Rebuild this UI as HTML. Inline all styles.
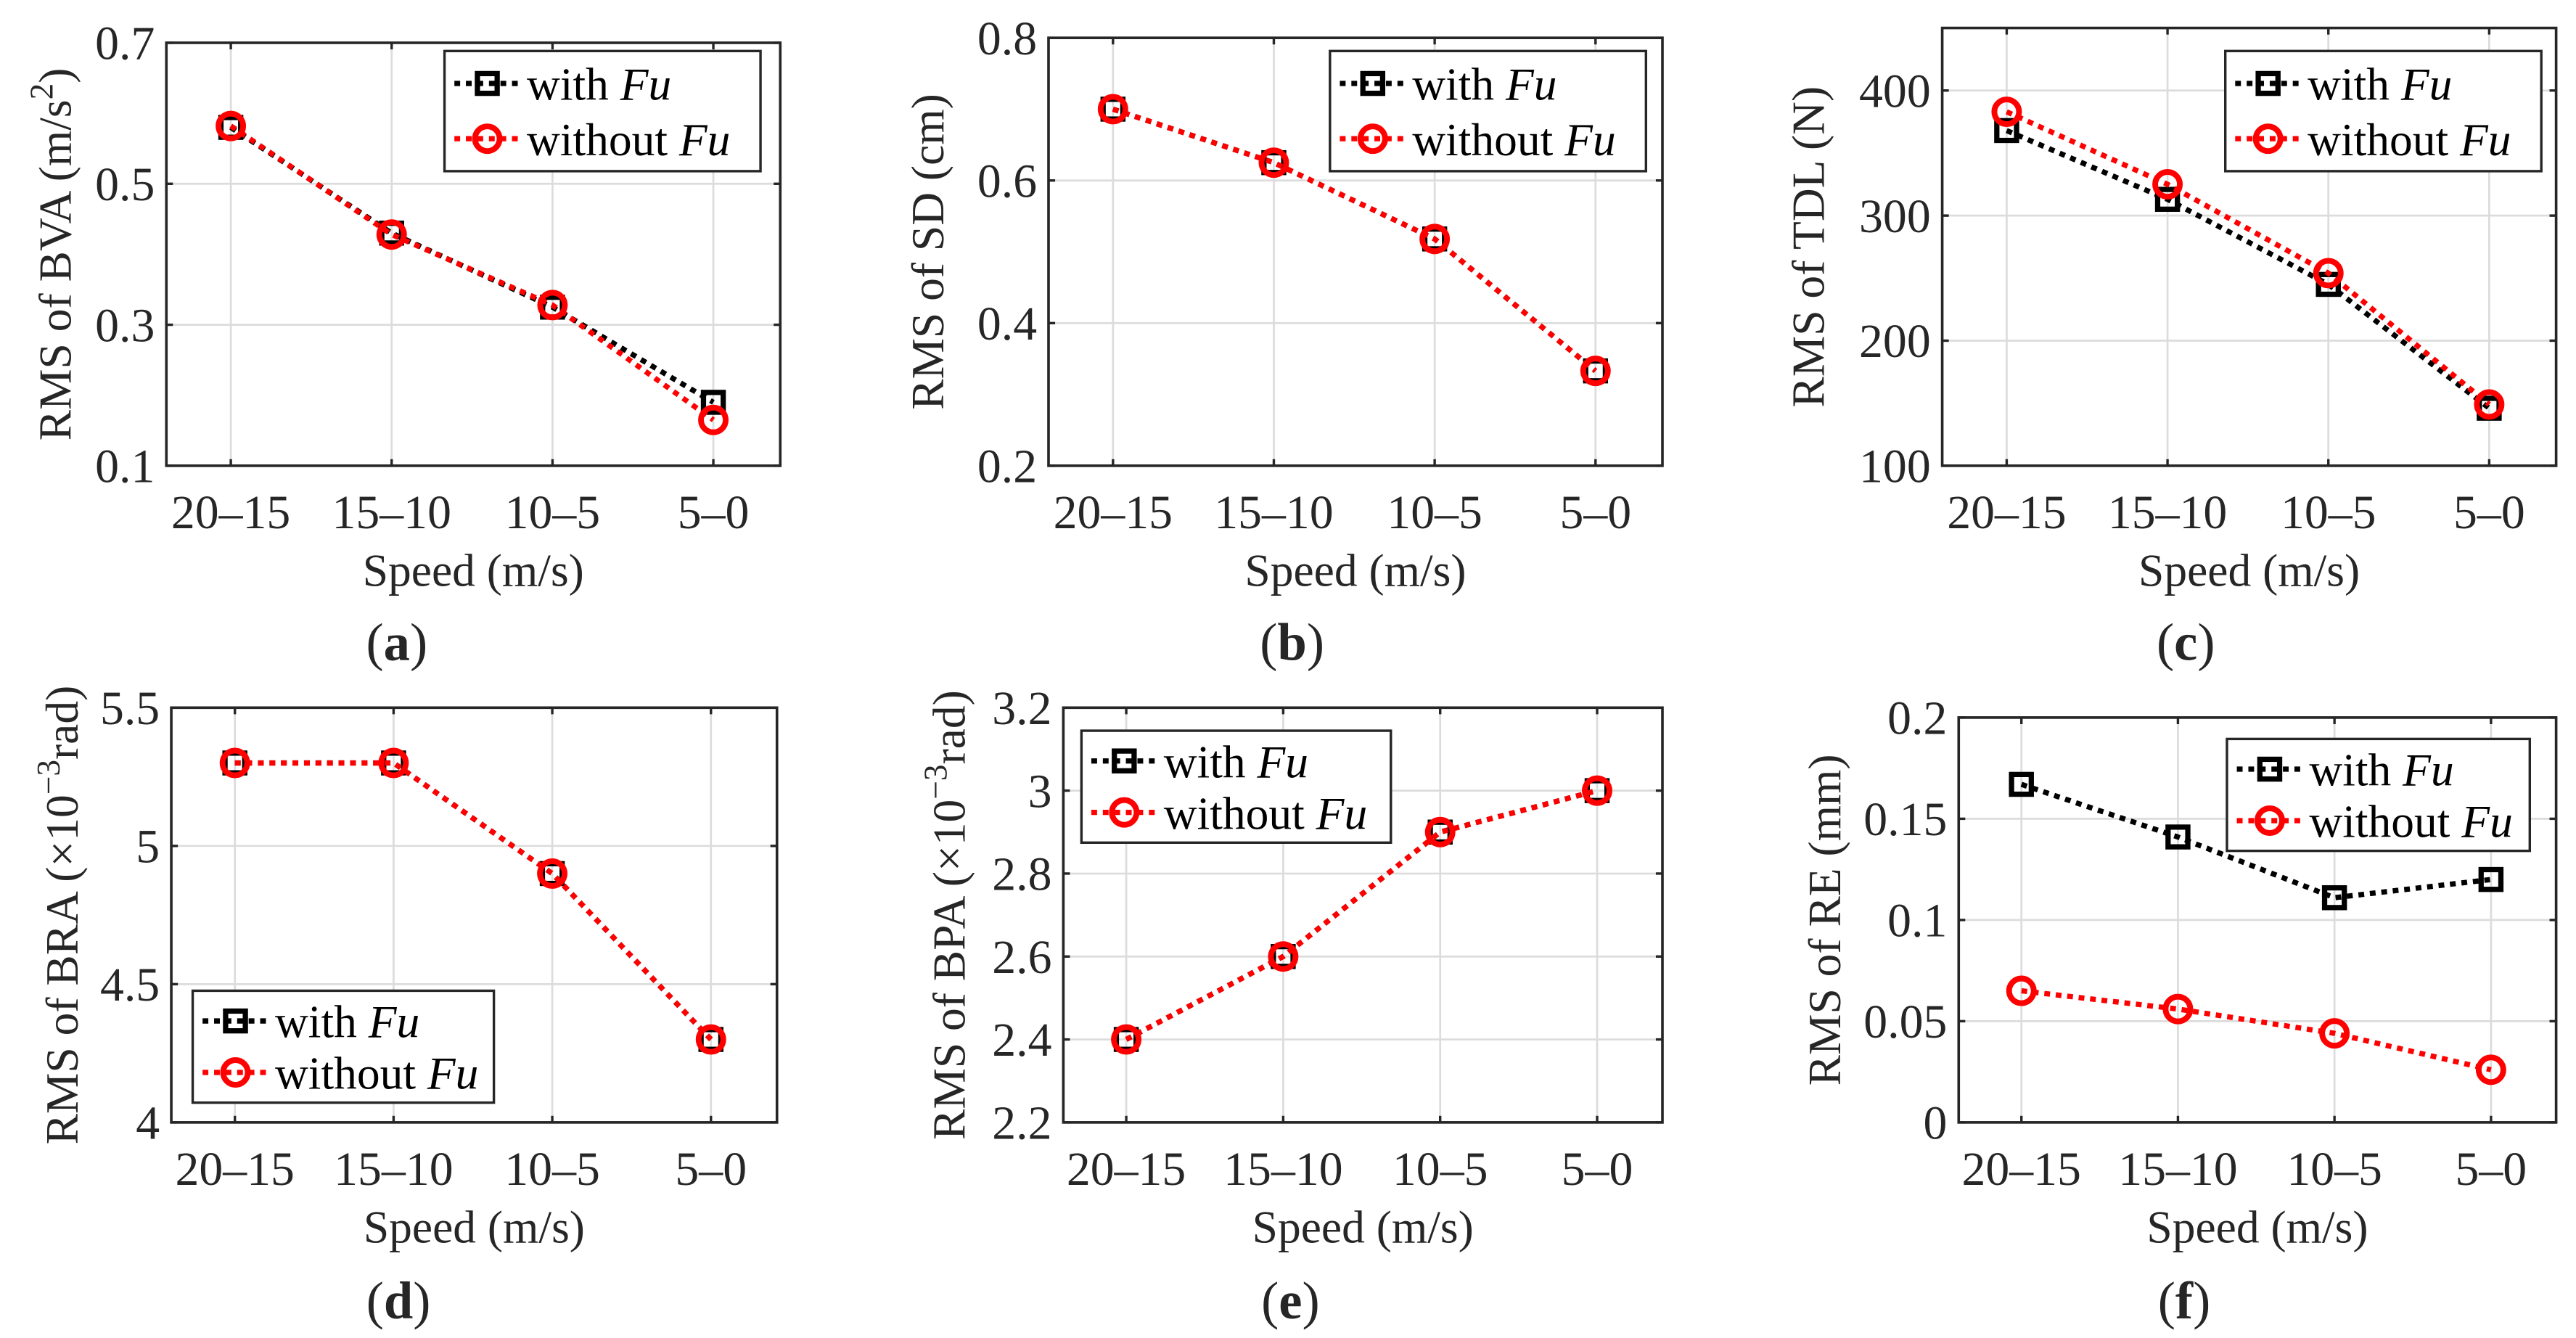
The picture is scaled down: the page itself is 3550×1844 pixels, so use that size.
<!DOCTYPE html>
<html><head><meta charset="utf-8"><style>
html,body{margin:0;padding:0;background:#fff}
svg{display:block}
text{font-family:"Liberation Serif",serif;fill:#262626}
</style></head><body>
<svg id="fig" width="3550" height="1844" viewBox="0 0 1565 813" xmlns="http://www.w3.org/2000/svg"></svg>
<script>
const categories = ["20–15","15–10","10–5","5–0"];
const aWith = [0.58,0.43,0.325,0.19];
const aWithout = [0.582,0.428,0.328,0.165];
const aTicks = [0.1,0.3,0.5,0.7];
const bWith = [0.70,0.625,0.518,0.333];
const bWithout = [0.70,0.625,0.518,0.333];
const bTicks = [0.2,0.4,0.6,0.8];
const cWith = [368,313,245,146];
const cWithout = [383,325,254,149];
const cTicks = [100,200,300,400];
const dWith = [5.30,5.30,4.90,4.30];
const dWithout = [5.30,5.30,4.90,4.30];
const dTicks = [4,4.5,5,5.5];
const eWith = [2.40,2.60,2.90,3.00];
const eWithout = [2.40,2.60,2.90,3.00];
const eTicks = [2.2,2.4,2.6,2.8,3,3.2];
const fWith = [0.167,0.141,0.111,0.120];
const fWithout = [0.065,0.056,0.044,0.026];
const fTicks = [0,0.05,0.1,0.15,0.2];

const NS="http://www.w3.org/2000/svg";
const svg=document.getElementById('fig');
function mk(tag,attrs,parent,txt){const e=document.createElementNS(NS,tag);for(const k in attrs)e.setAttribute(k,attrs[k]);if(txt!==undefined)e.textContent=txt;(parent||svg).appendChild(e);return e;}

const panels=[
 {id:'a',x0:101,x1:474,y0:26,y1:283,ymin:0.1,ymax:0.7,ticks:aTicks,w:aWith,wo:aWithout,ylab:'RMS of BVA (m/s',sup:'2',supEnd:')',yoff:58,leg:[270,31,192,73],cap:[241,390]},
 {id:'b',x0:637,x1:1010,y0:23,y1:283,ymin:0.2,ymax:0.8,ticks:bTicks,w:bWith,wo:bWithout,ylab:'RMS of SD (cm)',yoff:64,leg:[808,31,192,73],cap:[785,390]},
 {id:'c',x0:1180,x1:1553,y0:17,y1:283,ymin:100,ymax:450,ticks:cTicks,w:cWith,wo:cWithout,ylab:'RMS of TDL (N)',yoff:72,leg:[1352,31,192,73],cap:[1328,390]},
 {id:'d',x0:104,x1:472,y0:430,y1:682,ymin:4,ymax:5.5,ticks:dTicks,w:dWith,wo:dWithout,ylab:'RMS of BRA (×10',sup:'−3',supEnd:'rad)',yoff:57,leg:[117,602,183,68],cap:[242,790]},
 {id:'e',x0:646,x1:1010,y0:430,y1:682,ymin:2.2,ymax:3.2,ticks:eTicks,w:eWith,wo:eWithout,ylab:'RMS of BPA (×10',sup:'−3',supEnd:'rad)',yoff:60,leg:[657,444,188,68],cap:[784,790]},
 {id:'f',x0:1190,x1:1553,y0:436,y1:682,ymin:0,ymax:0.2,ticks:fTicks,w:fWith,wo:fWithout,ylab:'RMS of RE (mm)',yoff:72,leg:[1353,449,184,68],cap:[1327,790]},
];

panels.forEach(p=>{
 const g=mk('g',{});
 
 
 const xs=(i)=>p.x0+(p.x1-p.x0)*(0.105+i*0.262);
 const ys=(v)=>p.y1-(v-p.ymin)/(p.ymax-p.ymin)*(p.y1-p.y0);
 categories.forEach((c,i)=>{const l=mk('line',{x1:xs(i),x2:xs(i),y1:p.y0,y2:p.y1,stroke:'#dcdcdc','stroke-width':1.2},g);
  });
 p.ticks.forEach(t=>{const l=mk('line',{x1:p.x0,x2:p.x1,y1:ys(t),y2:ys(t),stroke:'#dcdcdc','stroke-width':1.2},g);
  });
 categories.forEach((c,i)=>{
  mk('line',{x1:xs(i),x2:xs(i),y1:p.y1,y2:p.y1-4,stroke:'#262626','stroke-width':1.5},g);
  mk('line',{x1:xs(i),x2:xs(i),y1:p.y0,y2:p.y0+4,stroke:'#262626','stroke-width':1.5},g);
  const t=mk('text',{x:xs(i),y:p.y1+38,'text-anchor':'middle','font-size':29},g,c);
  
 });
 p.ticks.forEach(v=>{
  mk('line',{x1:p.x0,x2:p.x0+4,y1:ys(v),y2:ys(v),stroke:'#262626','stroke-width':1.5},g);
  mk('line',{x1:p.x1,x2:p.x1-4,y1:ys(v),y2:ys(v),stroke:'#262626','stroke-width':1.5},g);
  const t=mk('text',{x:p.x0-7,y:ys(v)+10,'text-anchor':'end','font-size':29},g,String(v));
  
 });
 const box=mk('rect',{x:p.x0,y:p.y0,width:p.x1-p.x0,height:p.y1-p.y0,fill:'none',stroke:'#262626','stroke-width':1.6},g);
 
 const xl=mk('text',{x:(p.x0+p.x1)/2,y:p.y1+73,'text-anchor':'middle','font-size':28},g,'Speed (m/s)');
 
 const yx=p.x0-p.yoff, yy=(p.y0+p.y1)/2;
 const yl=mk('text',{x:yx,y:yy,'text-anchor':'middle','font-size':28,transform:`rotate(-90 ${yx} ${yy})`},g);
 
 mk('tspan',{},yl,p.ylab);
 if(p.sup){mk('tspan',{dy:-11,'font-size':20},yl,p.sup);mk('tspan',{dy:11},yl,p.supEnd);}
 const cap=mk('text',{x:p.cap[0],y:p.cap[1]+11,'text-anchor':'middle','font-size':32},g);
 
 mk('tspan',{},cap,'(');mk('tspan',{'font-weight':'bold'},cap,p.id);mk('tspan',{},cap,')');
 function series(vals,color,marker,name){
  const sg=mk('g',{},g);
  
  const pts=vals.map((v,i)=>xs(i)+','+ys(v)).join(' ');
  mk('polyline',{points:pts,fill:'none',stroke:color,'stroke-width':3.2,'stroke-dasharray':'3.5 3.5'},sg);
  vals.forEach((v,i)=>{
   let m;
   if(marker==='sq') m=mk('rect',{x:xs(i)-6,y:ys(v)-6,width:12,height:12,fill:'none',stroke:color,'stroke-width':3.2},sg);
   else m=mk('circle',{cx:xs(i),cy:ys(v),r:7.5,fill:'none',stroke:color,'stroke-width':3.5},sg);
   
  });
 }
 series(p.w,'#000','sq','series-with-fu');
 series(p.wo,'#ff0000','ci','series-without-fu');
 const [lx,ly,lw,lh]=p.leg;
 const lg=mk('g',{},g);
 mk('rect',{x:lx,y:ly,width:lw,height:lh,fill:'#fff',stroke:'#262626','stroke-width':1.5},lg);
 [['with ','#000','sq'],['without ','#ff0000','ci']].forEach((e,k)=>{
  const cy=ly+lh*(k===0?0.27:0.73);
  const eg=mk('g',{},lg);
  mk('line',{x1:lx+6,x2:lx+46,y1:cy,y2:cy,stroke:e[1],'stroke-width':3.2,'stroke-dasharray':'3.5 3.5'},eg);
  if(e[2]==='sq')mk('rect',{x:lx+26-6,y:cy-6,width:12,height:12,fill:'none',stroke:e[1],'stroke-width':3.2},eg);
  else mk('circle',{cx:lx+26,cy:cy,r:7.5,fill:'none',stroke:e[1],'stroke-width':3.5},eg);
  const t=mk('text',{x:lx+50,y:cy+10,'font-size':28,style:'fill:#000'},eg);
  mk('tspan',{},t,e[0]);mk('tspan',{'font-style':'italic'},t,'Fu');
 });
});
</script>
</body></html>
